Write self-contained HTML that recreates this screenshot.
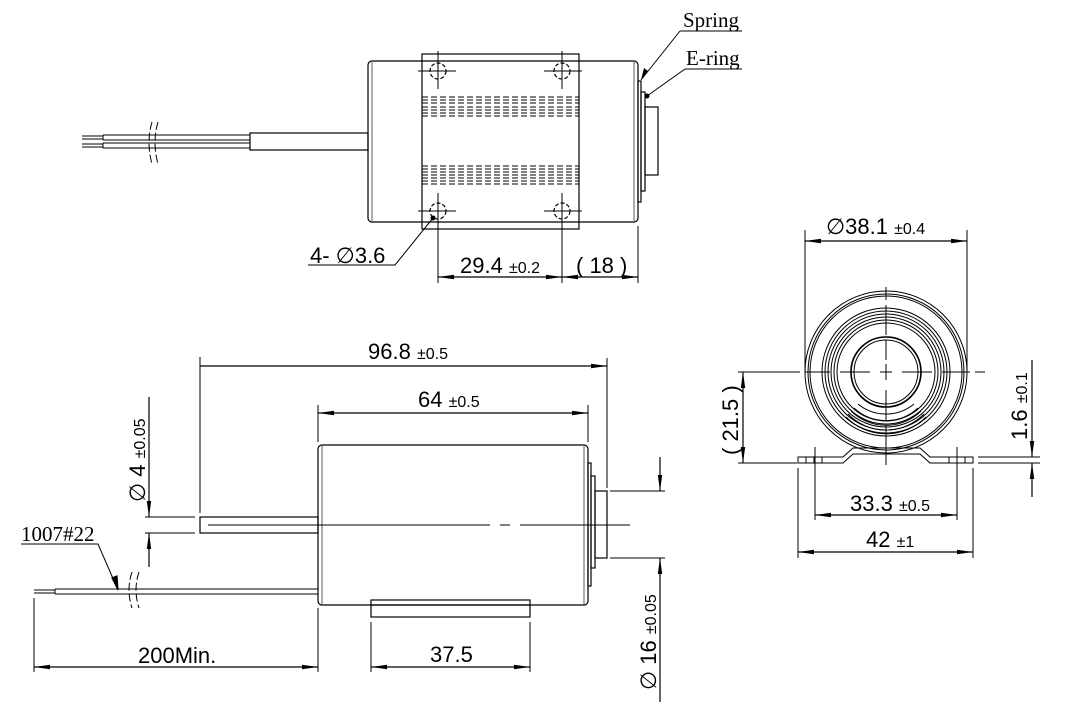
<!DOCTYPE html>
<html><head><meta charset="utf-8"><style>
html,body{margin:0;padding:0;background:#fff}
svg{display:block}
text{font-family:"Liberation Sans",sans-serif;fill:#000}
.s{font-family:"Liberation Serif",serif}
</style></head><body>
<svg width="1080" height="720" viewBox="0 0 1080 720" xmlns="http://www.w3.org/2000/svg">
<defs>
<marker id="a" viewBox="0 0 16 6" refX="16" refY="3" markerWidth="16" markerHeight="6" markerUnits="userSpaceOnUse" orient="auto-start-reverse"><path d="M0,0.8L16,3L0,5.2z" fill="#000"/></marker>
</defs>
<g fill="none" stroke="#000" stroke-width="1.2">
<!-- TOP VIEW -->
<rect x="368" y="61" width="270" height="161" rx="4"/>
<line x1="372" y1="62" x2="372" y2="221" stroke="#777"/>
<line x1="634" y1="62" x2="634" y2="221" stroke="#777"/>
<rect x="638" y="81" width="3" height="121"/>
<rect x="641" y="92" width="4" height="99"/>
<rect x="645" y="107" width="13" height="68"/>
<rect x="422" y="54" width="157" height="175"/>
<circle cx="438" cy="71" r="8" stroke-dasharray="4 2"/>
<circle cx="562" cy="71" r="8" stroke-dasharray="4 2"/>
<circle cx="438" cy="211" r="8" stroke-dasharray="4 2"/>
<circle cx="562" cy="211" r="8" stroke-dasharray="4 2"/>
<path d="M418 71H456M544 71H582M418 211H456M544 211H582M438 51V89M562 51V89M438 193V232M562 193V283M438 232V283M638 226V283" stroke-width="1"/>
<g stroke-dasharray="6 3" stroke-width="1.1">
<path d="M422 97H579M422 100H579M422 103H579M422 107H579M422 110H579M422 113H579M422 116H579"/>
<path d="M422 166H579M422 169H579M422 172H579M422 175H579M422 178H579M422 181H579M422 184H579"/>
</g>
<rect x="250" y="133" width="118" height="17"/>
<path d="M103 135H250M103 140H250M103 143H250M103 148H250M103 135V140M103 143V148M82 136H103M82 139H103M82 144H103M82 147H103" stroke-width="1"/>
<path d="M152 122Q146 142 152 164M158 122Q152 142 158 164" stroke-dasharray="8 3" stroke-width="1"/>
<line x1="438" y1="277" x2="562" y2="277" marker-start="url(#a)" marker-end="url(#a)"/>
<line x1="562" y1="277" x2="638" y2="277" marker-start="url(#a)" marker-end="url(#a)"/>
<path d="M308 265H395L433 218" stroke-width="1"/>
<path d="M680 31H742M680 31L641 80" stroke-width="1"/>
<path d="M685 69H742M685 69L647 96" stroke-width="1"/>
<!-- SIDE VIEW -->
<rect x="318" y="445" width="270" height="160" rx="4"/>
<line x1="322" y1="446" x2="322" y2="604" stroke="#777"/>
<line x1="584" y1="446" x2="584" y2="604" stroke="#777"/>
<rect x="588" y="463" width="3" height="123"/>
<rect x="591" y="476" width="4" height="92"/>
<rect x="595" y="491" width="12" height="67"/>
<rect x="371" y="600" width="159" height="17"/>
<line x1="371" y1="605" x2="530" y2="605"/>
<rect x="200" y="517" width="118" height="16"/>
<path d="M208 525H490M500 525H510M520 525H630" stroke-width="1"/>
<path d="M55 589H318M55 594H318M55 589V594M34 590H55M34 593H55" stroke-width="1"/>
<path d="M132 572Q126 590 132 608M139 572Q133 590 139 608" stroke-dasharray="8 3" stroke-width="1"/>
<path d="M200 357V513M607 358V488M318 405V442M588 405V442M34 598V672M318 608V672M371 622V672M530 622V672M145 517H195M145 533H195M610 491H665M610 558H665" stroke-width="1"/>
<line x1="200" y1="366" x2="607" y2="366" marker-end="url(#a)"/>
<line x1="318" y1="413" x2="588" y2="413" marker-start="url(#a)" marker-end="url(#a)"/>
<line x1="34" y1="667" x2="318" y2="667" marker-start="url(#a)" marker-end="url(#a)"/>
<line x1="371" y1="667" x2="530" y2="667" marker-start="url(#a)" marker-end="url(#a)"/>
<line x1="149" y1="397" x2="149" y2="517" marker-end="url(#a)"/>
<line x1="149" y1="567" x2="149" y2="533" marker-end="url(#a)"/>
<line x1="660" y1="457" x2="660" y2="491" marker-end="url(#a)"/>
<line x1="660" y1="702" x2="660" y2="558" marker-end="url(#a)"/>
<path d="M21 544H98L118 590" stroke-width="1"/>
<path d="M118 590l-6 -12 5 -2z" fill="#000"/>
<!-- RIGHT VIEW -->
<g stroke-width="1">
<circle cx="886" cy="372" r="81"/><circle cx="886" cy="372" r="78"/><circle cx="886" cy="372" r="76"/>
<circle cx="886" cy="372" r="64"/><circle cx="886" cy="372" r="61"/><circle cx="886" cy="372" r="58"/><circle cx="886" cy="372" r="55"/><circle cx="886" cy="372" r="52"/><circle cx="886" cy="372" r="49"/>
<circle cx="886" cy="372" r="35" stroke-width="1.6"/>
<circle cx="886" cy="372" r="32"/>
<path d="M858 404A44 44 0 0 0 914 404M854 408A47 47 0 0 0 918 408M851 411A50 50 0 0 0 921 411M848 414A53 53 0 0 0 924 414M846 417A56 56 0 0 0 926 417"/>
<path d="M798 457H843L853 448H920L930 457H973V463H930L920 454H853L843 463H798Z"/>
<path d="M806 457V463M814 457V463M822 457V463M957 457V463M949 457V463M965 457V463"/>
<path d="M790 372H800M805 372H830M840 372H870M880 372H892M902 372H932M942 372H970M975 372H985M886 287V300M886 305V335M886 340V360M886 364V380M886 390V420M886 425V465" />
<path d="M805 230V372M967 230V372M738 372H795M738 463H797M815 447V520M957 447V520M798 468V558M973 468V558M978 457H1040M978 463H1040"/>
</g>
<line x1="805" y1="241" x2="967" y2="241" marker-start="url(#a)" marker-end="url(#a)"/>
<line x1="743" y1="372" x2="743" y2="463" marker-start="url(#a)" marker-end="url(#a)"/>
<line x1="815" y1="515" x2="957" y2="515" marker-start="url(#a)" marker-end="url(#a)"/>
<line x1="798" y1="552" x2="973" y2="552" marker-start="url(#a)" marker-end="url(#a)"/>
<line x1="1032" y1="360" x2="1032" y2="457" marker-end="url(#a)"/>
<line x1="1032" y1="497" x2="1032" y2="463" marker-end="url(#a)"/>
</g>
<circle cx="433" cy="218" r="2.5"/>
<circle cx="647" cy="96" r="2.5"/>
<path d="M641 80l3 -12 4 3z"/>
<!-- TEXT -->
<text x="310" y="263" font-size="22">4- ∅3.6</text>
<text x="460" y="273" font-size="22">29.4 <tspan font-size="16">±0.2</tspan></text>
<text x="576" y="273" font-size="22">( 18 )</text>
<text class="s" x="683" y="27" font-size="21">Spring</text>
<text class="s" x="686" y="65" font-size="21">E-ring</text>
<text x="368" y="359" font-size="22">96.8 <tspan font-size="16">±0.5</tspan></text>
<text x="418" y="407" font-size="22">64 <tspan font-size="16">±0.5</tspan></text>
<text x="138" y="663" font-size="22">200Min.</text>
<text x="430" y="662" font-size="22">37.5</text>
<text class="s" x="21" y="541" font-size="21">1007#22</text>
<text transform="translate(145,502) rotate(-90)" font-size="22">∅ 4 <tspan font-size="16">±0.05</tspan></text>
<text transform="translate(656,690) rotate(-90)" font-size="22">∅ 16 <tspan font-size="16">±0.05</tspan></text>
<text x="826" y="234" font-size="22">∅38.1 <tspan font-size="16">±0.4</tspan></text>
<text x="850" y="511" font-size="22">33.3 <tspan font-size="16">±0.5</tspan></text>
<text x="866" y="547" font-size="22">42 <tspan font-size="16">±1</tspan></text>
<text transform="translate(738,455) rotate(-90)" font-size="22">( 21.5 )</text>
<text transform="translate(1027,440) rotate(-90)" font-size="22">1.6 <tspan font-size="16">±0.1</tspan></text>
</svg>
</body></html>
